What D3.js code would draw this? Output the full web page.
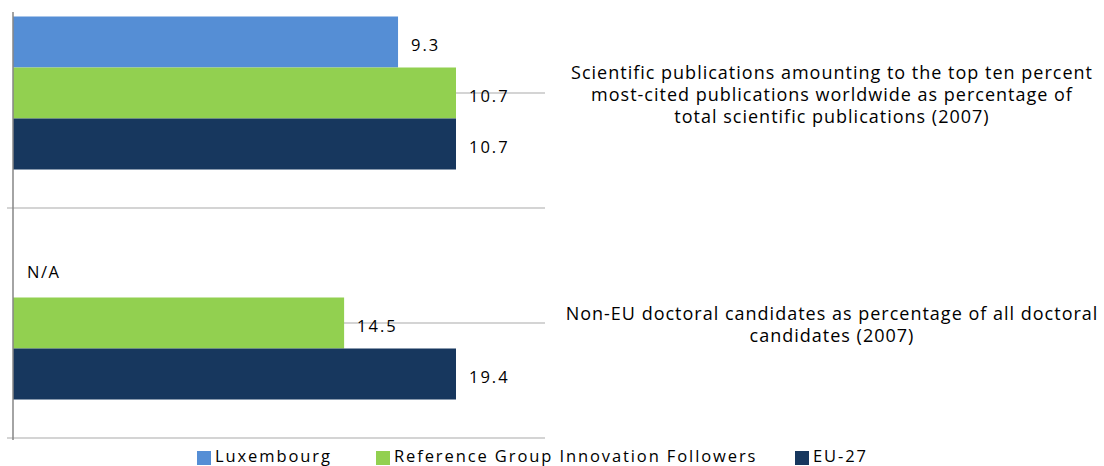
<!DOCTYPE html>
<html><head><meta charset="utf-8">
<script src="https://cdn.jsdelivr.net/npm/d3@7"></script>
<style>body{margin:0;background:#fff}svg{display:block}text{font-family:"Open Sans",sans-serif;fill:#000}</style>
</head><body><svg id="c" width="1104" height="466"></svg>
<script>
const categories = [
  ["Scientific publications amounting to the top ten percent","most-cited publications worldwide as  percentage of","total scientific publications (2007)"],
  ["Non-EU doctoral candidates as percentage of all doctoral","candidates (2007)"]
];
const seriesNames = ["Luxembourg","Reference Group Innovation Followers","EU-27"];
const colors = ["#558ED5","#92D050","#17375E"];
const luxembourg = [9.3, null];
const referenceGroup = [10.7, 14.5];
const eu27 = [10.7, 19.4];
const series = [luxembourg, referenceGroup, eu27];

const svg = d3.select("#c");
const pLeft = 13, pRight = 545, pTop = -22, pBottom = 438, axisTop = 12;
const y = d3.scaleBand().domain([0,1]).range([pTop,pBottom]);
const yInner = d3.scaleBand().domain([0,1,2]).range([0,153]);
const x = d3.scaleLinear().domain([0,1]).range([pLeft,456]);
const groupMax = categories.map((c,i)=>d3.max(series,s=>s[i]));

svg.selectAll(".g").data([0,1]).enter().append("line")
  .attr("x1",pLeft).attr("x2",pRight)
  .attr("y1",d=>y(d)+y.bandwidth()/2).attr("y2",d=>y(d)+y.bandwidth()/2)
  .attr("stroke","#c6c6c6").attr("stroke-width",1.5);
svg.selectAll(".b").data([0,1]).enter().append("line")
  .attr("x1",7).attr("x2",pRight)
  .attr("y1",d=>y(d)+y.bandwidth()).attr("y2",d=>y(d)+y.bandwidth())
  .attr("stroke","#c6c6c6").attr("stroke-width",1.5);

const off = (y.bandwidth()-153)/2;
series.forEach((s,si)=>{
  categories.forEach((c,ci)=>{
    const y0 = y(ci)+off+yInner(si);
    const base = y0+yInner.bandwidth()/2+9;
    if(s[ci]==null){
      svg.append("text").attr("x",pLeft+14).attr("y",base-3)
        .style("font-size","16.5px").style("letter-spacing","1.5px").text("N/A");
      return;
    }
    const w = x(s[ci]/groupMax[ci]);
    svg.append("rect").attr("x",pLeft).attr("y",y0).attr("width",w-pLeft).attr("height",yInner.bandwidth())
      .attr("fill",colors[si]);
    svg.append("text").attr("x",w+13).attr("y",base)
      .style("font-size","16.5px").style("letter-spacing","2px").text(s[ci].toFixed(1));
  });
});

svg.append("line").attr("x1",pLeft).attr("x2",pLeft).attr("y1",axisTop).attr("y2",pBottom+2)
  .attr("stroke","#868686").attr("stroke-width",1.5);

categories.forEach((lines,ci)=>{
  const cy = y(ci)+y.bandwidth()/2;
  const n = lines.length;
  lines.forEach((l,li)=>{
    svg.append("text").attr("x",832).attr("y",cy+(li-(n-1)/2)*22+8)
      .attr("text-anchor","middle").style("font-size","18px").style("letter-spacing","1px").text(l);
  });
});

const legX = [197,376,795];
seriesNames.forEach((n,i)=>{
  svg.append("rect").attr("x",legX[i]).attr("y",451).attr("width",14).attr("height",14).attr("fill",colors[i]);
  svg.append("text").attr("x",legX[i]+18).attr("y",461.5).style("font-size","16.5px").style("letter-spacing","1.9px").text(n);
});
</script></body></html>
